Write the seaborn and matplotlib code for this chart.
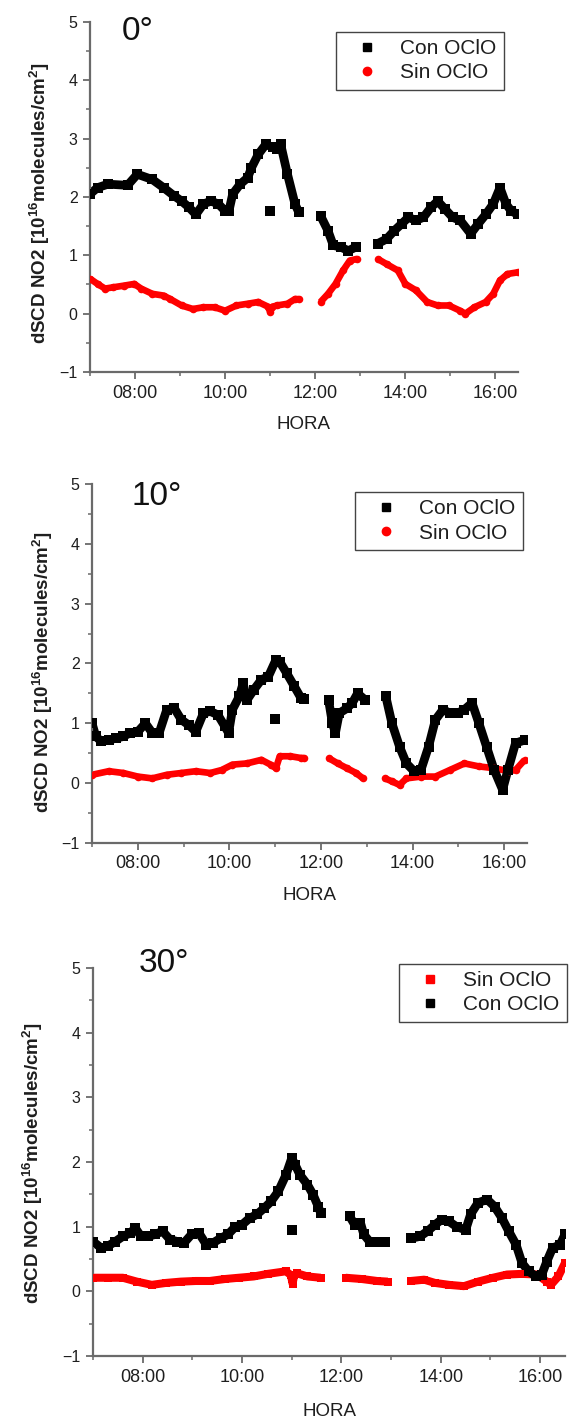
import numpy as np
import pandas as pd
import matplotlib
matplotlib.use("Agg")
import matplotlib.pyplot as plt
from matplotlib.lines import Line2D
from matplotlib.ticker import FuncFormatter, MultipleLocator
import seaborn as sns

# ---------------------------------------------------------------------------
# dSCD NO2 (10^16 molecules/cm^2) vs local time, three elevation angles.
# A None entry marks a gap in the record.
# ---------------------------------------------------------------------------

# 0 deg
hora_con_0 = ["07:00", "07:10", "07:24", "07:50", "08:03", "08:23", "08:38", "08:52", "09:02",
              "09:12", "09:21", "09:31", "09:41", "09:51", "10:00", "10:05", "10:10", "10:20",
              "10:30", "10:35", "10:44", "10:54", "11:04", "11:09", "11:14", "11:23", "11:33",
              "11:38", None,
              "12:07", "12:17", "12:24", "12:34", "12:44", "12:54", None,
              "13:23", "13:35", "13:45", "13:55", "14:04", "14:14", "14:24", "14:34", "14:43",
              "14:53", "15:03", "15:13", "15:27", "15:37", "15:47", "15:57", "16:06", "16:14",
              "16:21", "16:30"]
con_0 = [2.05, 2.16, 2.22, 2.20, 2.39, 2.30, 2.16, 2.02, 1.93,
         1.82, 1.70, 1.88, 1.93, 1.88, 1.76, 1.76, 2.05, 2.22,
         2.33, 2.50, 2.73, 2.90, 2.85, 2.83, 2.90, 2.39, 1.88,
         1.74, None,
         1.68, 1.42, 1.17, 1.14, 1.08, 1.14, None,
         1.20, 1.28, 1.42, 1.54, 1.65, 1.60, 1.65, 1.82, 1.93,
         1.79, 1.65, 1.60, 1.37, 1.54, 1.70, 1.88, 2.16, 1.88,
         1.76, 1.70]

hora_sin_0 = ["07:00", "07:10", "07:20", "07:30", "07:45", "07:59", "08:08", "08:23", "08:38",
              "08:47", "09:02", "09:17", "09:31", "09:46", "10:00", "10:15", "10:30", "10:44",
              "10:57", "11:00", "11:03", "11:09", "11:23", "11:33", "11:38", None,
              "12:07", "12:17", "12:27", "12:37", "12:46", "12:56", None,
              "13:23", "13:35", "13:50", "14:00", "14:14", "14:29", "14:43", "14:58", "15:13",
              "15:20", "15:32", "15:47", "15:57", "16:06", "16:16", "16:30"]
sin_0 = [0.60, 0.51, 0.43, 0.45, 0.48, 0.51, 0.43, 0.34, 0.31,
         0.25, 0.14, 0.08, 0.11, 0.11, 0.05, 0.14, 0.17, 0.20,
         0.12, 0.03, 0.12, 0.14, 0.17, 0.25, 0.25, None,
         0.20, 0.34, 0.51, 0.74, 0.91, 0.94, None,
         0.94, 0.85, 0.74, 0.51, 0.40, 0.20, 0.14, 0.14, 0.05,
         0.00, 0.11, 0.20, 0.34, 0.57, 0.68, 0.71]

# 10 deg
hora_con_10 = ["07:00", "07:05", "07:12", "07:22", "07:31", "07:41", "07:50", "08:00", "08:10",
               "08:19", "08:28", "08:38", "08:48", "08:57", "09:07", "09:16", "09:26", "09:35",
               "09:45", "09:54", "09:59", "10:04", "10:13", "10:18", "10:23", "10:32", "10:42",
               "10:51", "11:01", "11:06", "11:15", "11:25", "11:34", "11:38", None,
               "12:10", "12:15", "12:19", "12:24", "12:34", "12:41", "12:48", "12:58", None,
               "13:25", "13:33", "13:43", "13:52", "14:02", "14:11", "14:21", "14:30", "14:40",
               "14:49", "14:59", "15:08", "15:18", "15:27", "15:37", "15:47", "15:58", "16:05",
               "16:15", "16:27"]
con_10 = [1.00, 0.78, 0.70, 0.72, 0.75, 0.78, 0.84, 0.86, 1.00,
          0.84, 0.84, 1.23, 1.25, 1.06, 0.97, 0.86, 1.17, 1.20,
          1.14, 0.95, 0.84, 1.23, 1.45, 1.67, 1.39, 1.56, 1.73,
          1.78, 2.06, 2.03, 1.84, 1.62, 1.42, 1.40, None,
          1.39, 1.00, 0.84, 1.17, 1.25, 1.34, 1.50, 1.39, None,
          1.45, 1.00, 0.61, 0.33, 0.20, 0.22, 0.61, 1.06, 1.23,
          1.17, 1.17, 1.23, 1.34, 1.00, 0.61, 0.22, -0.11, 0.22,
          0.67, 0.72]

hora_sin_10 = ["07:00", "07:22", "07:41", "08:00", "08:19", "08:38", "08:57", "09:16", "09:35",
               "09:50", "10:04", "10:23", "10:42", "10:54", "11:01", "11:06", "11:20", "11:34",
               "11:38", None,
               "12:10", "12:22", "12:34", "12:46", "12:55", None,
               "13:24", "13:33", "13:43", "13:52", "14:11", "14:30", "14:49", "15:08", "15:27",
               "15:47", "16:06", "16:15", "16:27"]
sin_10 = [0.14, 0.20, 0.17, 0.11, 0.08, 0.14, 0.17, 0.20, 0.17,
          0.22, 0.31, 0.33, 0.39, 0.31, 0.25, 0.45, 0.45, 0.42,
          0.42, None,
          0.42, 0.33, 0.25, 0.17, 0.08, None,
          0.08, 0.03, -0.03, 0.08, 0.11, 0.11, 0.22, 0.33, 0.28,
          0.25, 0.20, 0.22, 0.39]

# 30 deg
hora_con_30 = ["07:00", "07:10", "07:18", "07:27", "07:36", "07:45", "07:51", "07:58", "08:07",
               "08:15", "08:24", "08:33", "08:42", "08:50", "08:59", "09:08", "09:17", "09:25",
               "09:34", "09:43", "09:52", "10:00", "10:09", "10:18", "10:27", "10:35", "10:44",
               "10:53", "11:00", "11:04", "11:10", "11:19", "11:26", "11:32", "11:35", None,
               "12:10", "12:16", "12:23", "12:27", "12:34", "12:42", "12:53", None,
               "13:24", "13:35", "13:44", "13:53", "14:01", "14:10", "14:19", "14:30", "14:36",
               "14:45", "14:56", "15:05", "15:14", "15:22", "15:31", "15:38", "15:46", "15:55",
               "16:02", "16:08", "16:15", "16:24", "16:30"]
con_30 = [0.77, 0.67, 0.70, 0.77, 0.85, 0.90, 0.98, 0.85, 0.85,
          0.88, 0.93, 0.80, 0.77, 0.75, 0.88, 0.90, 0.72, 0.75,
          0.82, 0.88, 1.00, 1.03, 1.13, 1.19, 1.29, 1.39, 1.55,
          1.80, 2.06, 1.96, 1.80, 1.65, 1.49, 1.31, 1.21, None,
          1.16, 1.03, 1.06, 0.88, 0.77, 0.77, 0.77, None,
          0.82, 0.85, 0.93, 1.03, 1.11, 1.08, 1.00, 0.95, 1.19,
          1.37, 1.42, 1.31, 1.13, 0.93, 0.72, 0.44, 0.31, 0.23,
          0.26, 0.46, 0.67, 0.72, 0.88]

hora_sin_30 = ["07:00", "07:18", "07:36", "07:53", "08:11", "08:28", "08:46", "09:04", "09:21",
               "09:39", "09:56", "10:14", "10:31", "10:53", "10:59", "11:01", "11:03", "11:06",
               "11:19", "11:35", None,
               "12:05", "12:25", "12:43", "12:56", None,
               "13:24", "13:40", "13:53", "14:10", "14:28", "14:45", "15:03", "15:20", "15:38",
               "15:56", "16:08", "16:13", "16:22", "16:30"]
sin_30 = [0.21, 0.21, 0.21, 0.15, 0.10, 0.13, 0.15, 0.16, 0.16,
          0.19, 0.21, 0.23, 0.27, 0.31, 0.25, 0.12, 0.25, 0.28,
          0.23, 0.21, None,
          0.21, 0.19, 0.16, 0.15, None,
          0.16, 0.18, 0.13, 0.10, 0.08, 0.15, 0.21, 0.26, 0.27,
          0.26, 0.15, 0.10, 0.23, 0.44]

# isolated reference measurement at 11:00 (Con OClO) for 0, 10, 30 deg
hora_ref = "11:00"
con_ref = [1.76, 1.07, 0.95]

angulos = ["0°", "10°", "30°"]
y_ticks = [-1, 0, 1, 2, 3, 4, 5]
x_major = [8, 10, 12, 14, 16]
x_minor = [7, 9, 11, 13, 15]


def to_hours(s):
    hh, mm = s.split(":")
    return int(hh) + int(mm) / 60.0


def frame(horas, vals):
    seg, rows = 0, []
    for h, v in zip(horas, vals):
        if h is None or v is None:
            seg += 1
            continue
        rows.append({"h": to_hours(h), "v": v, "seg": seg})
    return pd.DataFrame(rows)


# ---------------------------------------------------------------------------
sns.set_theme(style="ticks")
plt.rcParams["font.family"] = ["Liberation Sans", "DejaVu Sans"]
plt.rcParams["mathtext.fontset"] = "custom"
plt.rcParams["mathtext.rm"] = "Liberation Sans"
plt.rcParams["mathtext.bf"] = "Liberation Sans:bold"

W, H = 569, 1423
fig = plt.figure(figsize=(W / 100, H / 100), dpi=100)
fig.patch.set_facecolor("white")

AX_COL = "#6a6a6a"
TXT_COL = "#1e1e1e"
RED = "#ff0000"

paneles = [
    dict(box=(90, 518, 22, 372), title_xy=(122, 40), ylab_xy=(40, 203), xlab_xy=(304, 424),
         leg=(504, 32), con=frame(hora_con_0, con_0), sin=frame(hora_sin_0, sin_0),
         sin_marker="o", order="con", red_lw=4.8),
    dict(box=(92, 527, 484, 843), title_xy=(132, 505), ylab_xy=(43, 672), xlab_xy=(309, 896),
         leg=(523, 492), con=frame(hora_con_10, con_10), sin=frame(hora_sin_10, sin_10),
         sin_marker="o", order="con", red_lw=4.8),
    dict(box=(93, 565, 968, 1356), title_xy=(139, 972), ylab_xy=(33, 1163), xlab_xy=(329, 1412),
         leg=(567, 964), con=frame(hora_con_30, con_30), sin=frame(hora_sin_30, sin_30),
         sin_marker="s", order="sin", red_lw=5.8),
]


def draw_series(ax, df, color, marker, lw, s):
    sns.lineplot(data=df, x="h", y="v", units="seg", estimator=None, sort=True,
                 color=color, lw=lw, solid_capstyle="butt", legend=False, ax=ax)
    sns.scatterplot(data=df, x="h", y="v", color=color, marker=marker, s=s,
                    linewidth=0, legend=False, ax=ax, zorder=3)


for i, p in enumerate(paneles):
    l, r, t, b = p["box"]
    ax = fig.add_axes([l / W, 1 - b / H, (r - l) / W, (b - t) / H])
    ax.set_facecolor("white")

    draw_series(ax, p["sin"], RED, p["sin_marker"], lw=p["red_lw"], s=30)
    draw_series(ax, p["con"], "black", "s", lw=6.3, s=42)
    ref = pd.DataFrame({"h": [to_hours(hora_ref)], "v": [con_ref[i]]})
    sns.scatterplot(data=ref, x="h", y="v", color="black", marker="s", s=42,
                    linewidth=0, legend=False, ax=ax, zorder=3)

    ax.set_xlim(7, 16.5)
    ax.set_ylim(-1, 5)
    ax.set_xticks(x_major)
    ax.set_xticks(x_minor, minor=True)
    ax.xaxis.set_major_formatter(FuncFormatter(lambda v, _: f"{int(round(v)):02d}:00"))
    ax.set_yticks(y_ticks)
    ax.yaxis.set_minor_locator(MultipleLocator(0.5))
    ax.set_xlabel("")
    ax.set_ylabel("")
    sns.despine(ax=ax)
    for side in ("left", "bottom"):
        ax.spines[side].set_color(AX_COL)
        ax.spines[side].set_linewidth(1.6)
    ax.tick_params(axis="both", which="major", direction="out", length=5, width=1.3,
                   color=AX_COL, labelcolor=TXT_COL)
    ax.tick_params(axis="both", which="minor", direction="out", length=3, width=1.1,
                   color=AX_COL)
    ax.tick_params(axis="x", labelsize=13, pad=4)
    ax.tick_params(axis="y", labelsize=11.5, pad=4)

    tx, ty = p["title_xy"]
    fig.text(tx / W, 1 - ty / H, angulos[i], fontsize=24, color="#111111",
             ha="left", va="baseline")
    yx, yy = p["ylab_xy"]
    fig.text(yx / W, 1 - yy / H,
             r"dSCD NO2 [10$^{\mathbf{16}}$molecules/cm$^{\mathbf{2}}$]",
             rotation=90, ha="center", va="center", fontsize=13.5,
             fontweight="bold", color=TXT_COL)
    xx, xy = p["xlab_xy"]
    fig.text(xx / W, 1 - xy / H, "HORA", ha="center", va="center", fontsize=13.5,
             color=TXT_COL)

    h_con = Line2D([], [], ls="", marker="s", color="black", ms=5.5)
    h_sin = Line2D([], [], ls="", marker=p["sin_marker"], color=RED,
                   ms=6.0 if p["sin_marker"] == "o" else 5.5)
    if p["order"] == "con":
        handles, labels = [h_con, h_sin], ["Con OClO", "Sin OClO"]
    else:
        handles, labels = [h_sin, h_con], ["Sin OClO", "Con OClO"]
    lx, ly = p["leg"]
    leg = ax.legend(handles, labels, loc="upper right",
                    bbox_to_anchor=(lx / W, 1 - ly / H), bbox_transform=fig.transFigure,
                    borderaxespad=0, fontsize=15, frameon=True, fancybox=False,
                    framealpha=1, edgecolor="#444444", borderpad=0.35,
                    labelspacing=0.25, handlelength=2.3, handletextpad=0.45)
    leg.get_frame().set_linewidth(1.0)
    for txt in leg.get_texts():
        txt.set_color(TXT_COL)

fig.savefig("out.png", dpi=100, facecolor="white")
